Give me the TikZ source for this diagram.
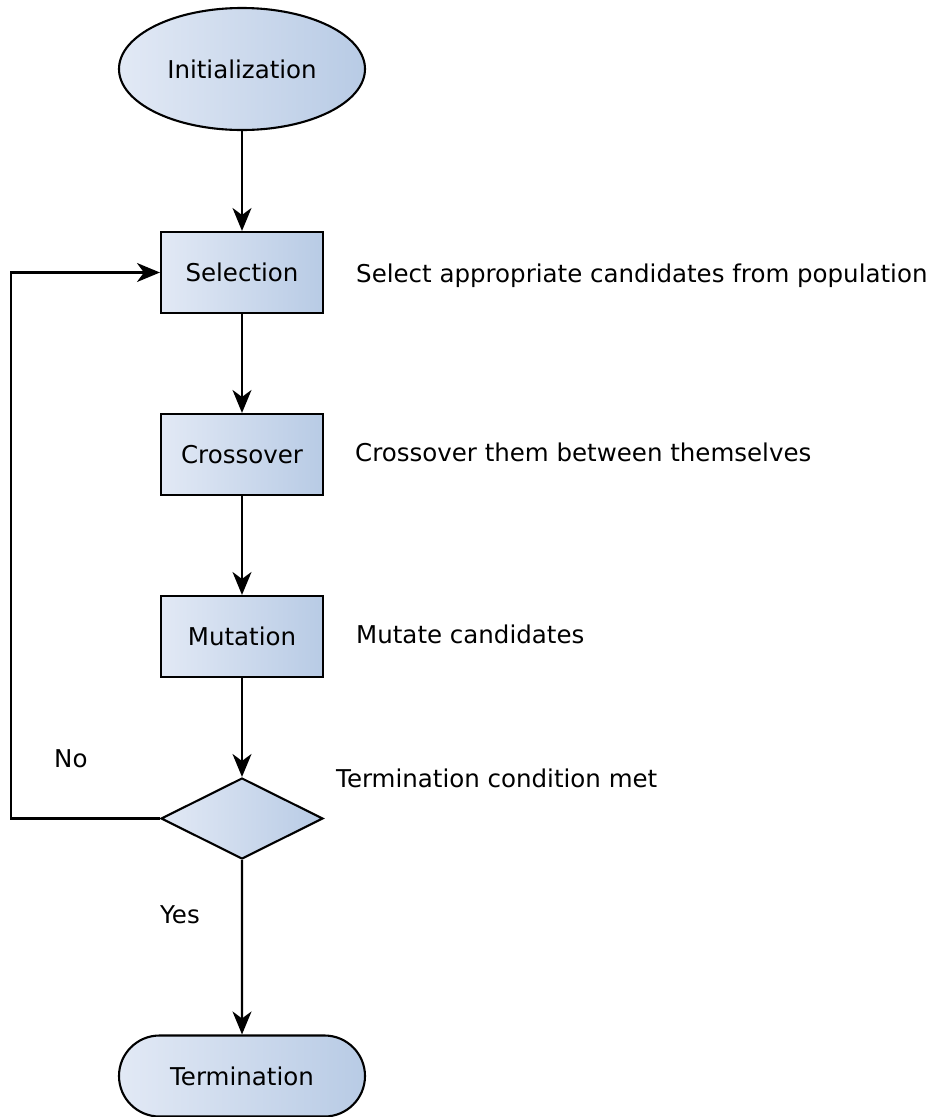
\documentclass[tikz,border=0pt]{standalone}
\usepackage{fontspec}
\setmainfont{DejaVu Sans}
\usetikzlibrary{shapes.geometric,shapes.misc,arrows.meta}

\definecolor{fillL}{RGB}{226,233,245}
\definecolor{fillR}{RGB}{184,203,229}

\tikzset{
  block/.style={draw=black, line width=2.1pt, left color=fillL, right color=fillR,
    inner sep=0pt, font=\fontsize{24.5}{29}\selectfont},
  procbox/.style={block, rectangle, minimum width=162pt, minimum height=81pt},
  startbox/.style={block, ellipse, minimum width=246pt, minimum height=122pt},
  endbox/.style={block, rounded rectangle, minimum width=246pt, minimum height=81pt},
  decision/.style={block, diamond, aspect=2, minimum width=162pt, minimum height=81pt},
  note/.style={anchor=base west, inner sep=0pt, font=\fontsize{24.5}{29}\selectfont},
  flow/.style={draw=black, line width=2.1pt, -{Stealth[length=23pt, width=19pt, inset=7pt]}},
}

\begin{document}
\begin{tikzpicture}[x=1pt, y=-1pt]
  \useasboundingbox (0,0) rectangle (931,1117);

  % main chain
  \node[startbox] (init) at (242,69) {Initialization};
  \node[procbox] (sel) at (242,272.5) {Selection};
  \node[procbox] (cross) at (242,454.5) {Crossover};
  \node[procbox] (mut) at (242,636.5) {Mutation};
  \node[decision] (cond) at (242,818.5) {};
  \node[endbox] (term) at (242,1076) {Termination};

  % side notes
  \node[note] (nsel) at (356,282) {Select appropriate candidates from population};
  \node[note] (ncross) at (355,461) {Crossover them between themselves};
  \node[note] (nmut) at (356,643) {Mutate candidates};
  \node[note] (ncond) at (336,787) {Termination condition met};
  \node[note] (nno) at (54,767) {No};
  \node[note] (nyes) at (160,923) {Yes};

  % connectors
  \draw[flow] (init) -- (sel);
  \draw[flow] (sel) -- (cross);
  \draw[flow] (cross) -- (mut);
  \draw[flow] (mut) -- (cond);
  \draw[flow] (cond) -- (term);

  % loop back when the condition is not met
  \coordinate (corner) at (11,818.5);
  \draw[flow] (cond.west) -- (corner) |- (sel.west);
\end{tikzpicture}
\end{document}
